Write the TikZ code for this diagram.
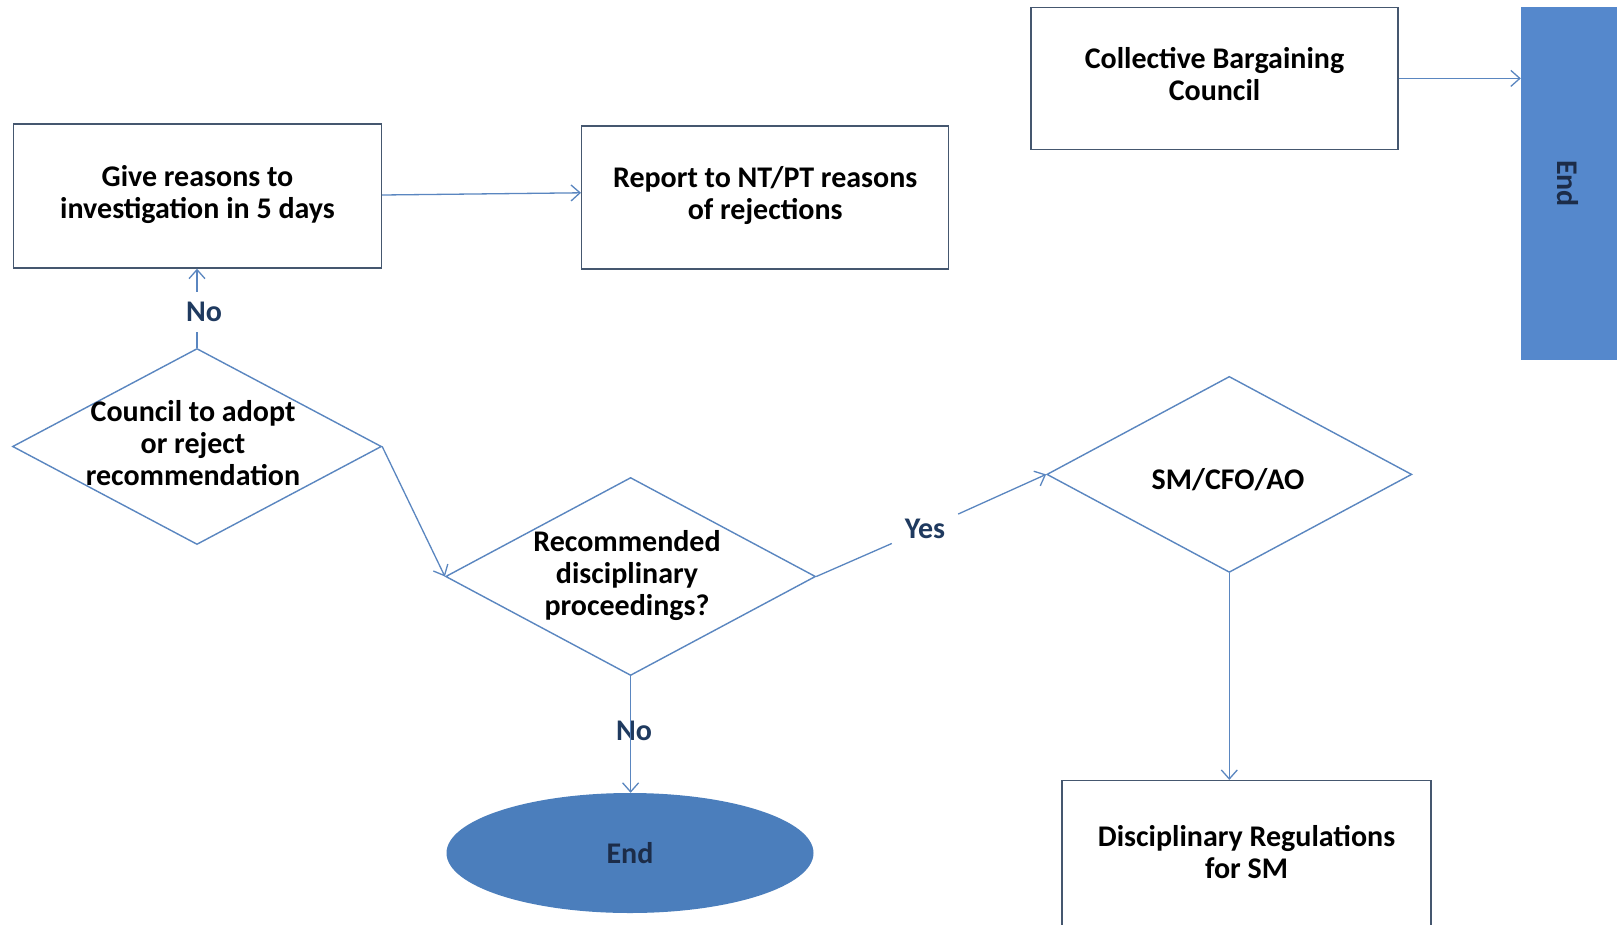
\documentclass[tikz,border=0pt]{standalone}
\usepackage{fontspec}
\setmainfont{Carlito}
\usetikzlibrary{shapes.geometric,arrows.meta}
\definecolor{lineblue}{HTML}{5A86C0}
\definecolor{boxedge}{HTML}{45576F}
\definecolor{fillA}{HTML}{5588CC}
\definecolor{fillB}{HTML}{4B7EBC}
\definecolor{lbl}{HTML}{1F3A5F}
\definecolor{endtxt}{HTML}{1C2C48}
\newcommand{\twolines}[2]{\begin{tabular}{@{}c@{}}#1\\#2\end{tabular}}
\begin{document}
\begin{tikzpicture}[x=1pt,y=-1pt,
  every node/.style={font=\fontsize{30}{32}\selectfont\bfseries},
  procbox/.style={draw=boxedge,line width=1.4pt,rectangle,inner sep=0pt,align=center},
  decbox/.style={draw=lineblue,line width=1.4pt,diamond,inner sep=0pt},
  dectext/.style={align=center,inner sep=0pt,text=black},
  lab/.style={text=lbl,inner sep=0pt},
  conn/.style={draw=lineblue,line width=1.3pt},
  arr/.style={conn,-{Straight Barb[length=9pt,width=16pt,line width=1.3pt]}}]
\useasboundingbox (0,0) rectangle (1617,924);
\fill[white] (0,0) rectangle (1617,924);

% process boxes
\node[procbox,minimum width=368pt,minimum height=144pt] (b1) at (197.5,196)
  {\raisebox{5pt}{\twolines{Give reasons to}{investigation in 5 days}}};
\node[procbox,minimum width=367pt,minimum height=143pt] (b2) at (765.2,197.5)
  {\raisebox{4pt}{\twolines{Report to NT/PT reasons}{of rejections}}};
\node[procbox,minimum width=367pt,minimum height=142pt] (b3) at (1214.5,78.4)
  {\raisebox{5pt}{\twolines{Collective Bargaining}{Council}}};
\node[procbox,minimum width=369pt,minimum height=150pt] (b4) at (1246.5,855.6)
  {\raisebox{8pt}{\twolines{Disciplinary Regulations}{for SM}}};

% terminal shapes
\node[fill=fillA,rectangle,minimum width=104pt,minimum height=353pt,inner sep=0pt] (endR) at (1573,183.6) {};
\node[rotate=-90,text=endtxt,inner sep=0pt] (endRt) at (1567.5,183.6) {End};
\node[fill=fillB,ellipse,minimum width=367pt,minimum height=120pt,inner sep=0pt,text=endtxt] (endE) at (630,853) {End};

% decisions
\node[decbox,minimum width=369pt,minimum height=196pt] (d1) at (197,446.5) {};
\node[dectext] (d1t) at (193,443.5) {Council to adopt\\or reject\\recommendation};
\node[decbox,minimum width=370pt,minimum height=198pt] (d2) at (630.6,576.5) {};
\node[dectext] (d2t) at (627,575.4) {Recommended\\disciplinary\\proceedings?};
\node[decbox,minimum width=365pt,minimum height=196pt] (d3) at (1229.3,474.4) {};
\node[dectext] (d3t) at (1228,479.5) {SM/CFO/AO};

% labels
\node[lab,minimum height=40pt] (no1) at (204,312) {No};
\node[lab,minimum height=41pt] (no2) at (634,731) {No};
\node[lab,minimum width=66pt,minimum height=30pt] (yes) at (925,529) {Yes};

% connectors
\draw[arr] ([yshift=1pt]b1.east) -- ([yshift=4.7pt]b2.west);
\draw[arr] (b3.east) -- (b3.east -| endR.west);
\draw[conn] (d1.north) -- (d1.north |- no1.south);
\draw[arr] (d1.north |- no1.north) -- (d1.north |- b1.south);
\draw[arr] (d1.east) -- (d2.west);
\draw[conn] (d2.east) -- (yes);
\draw[arr] (yes) -- (d3.west);
\draw[conn] (d2.south) -- (d2.south |- no2.south);
\draw[arr] (d2.south |- no2.north) -- (d2.south |- endE.north);
\draw[arr] (d3.south) -- (d3.south |- b4.north);
\end{tikzpicture}
\end{document}
